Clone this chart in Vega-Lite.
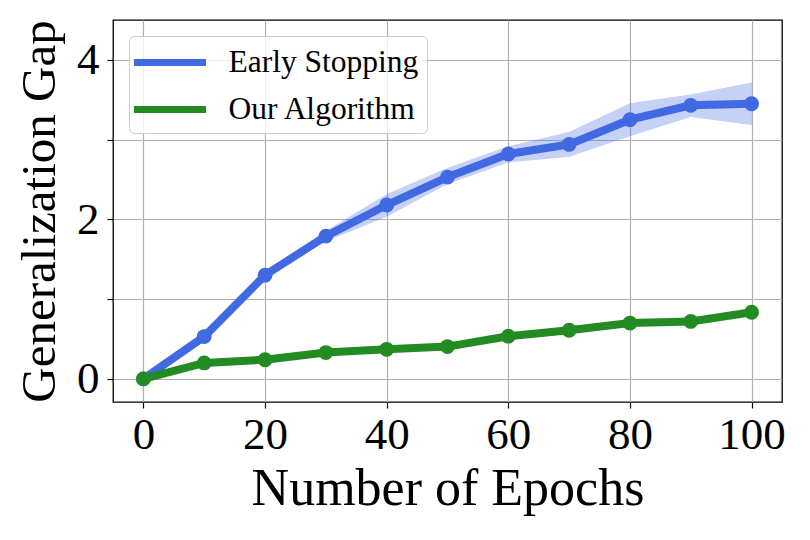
{
  "$schema": "https://vega.github.io/schema/vega-lite/v6.json",
  "width": 669,
  "height": 382,
  "autosize": "none",
  "padding": {"left": 113, "top": 20, "right": 28, "bottom": 138},
  "background": "white",
  "config": {
    "font": "Liberation Serif",
    "view": {"stroke": "black", "strokeWidth": 1.3},
    "axis": {
      "domain": false,
      "grid": true,
      "gridColor": "#b0b0b0",
      "gridWidth": 1.2,
      "tickColor": "black",
      "tickSize": 6,
      "tickWidth": 1.2,
      "labelFont": "Liberation Serif",
      "labelFontSize": 45,
      "labelColor": "black",
      "titleFont": "Liberation Serif",
      "titleFontSize": 50,
      "titleFontWeight": "normal",
      "titleColor": "black"
    }
  },
  "data": {
    "values": [
      {"epoch": 0, "method": "Early Stopping", "mean": 0.0, "lower": 0.0, "upper": 0.0},
      {"epoch": 10, "method": "Early Stopping", "mean": 0.53, "lower": 0.51, "upper": 0.55},
      {"epoch": 20, "method": "Early Stopping", "mean": 1.3, "lower": 1.27, "upper": 1.33},
      {"epoch": 30, "method": "Early Stopping", "mean": 1.79, "lower": 1.73, "upper": 1.85},
      {"epoch": 40, "method": "Early Stopping", "mean": 2.18, "lower": 2.04, "upper": 2.31},
      {"epoch": 50, "method": "Early Stopping", "mean": 2.53, "lower": 2.45, "upper": 2.64},
      {"epoch": 60, "method": "Early Stopping", "mean": 2.82, "lower": 2.72, "upper": 2.91},
      {"epoch": 70, "method": "Early Stopping", "mean": 2.94, "lower": 2.79, "upper": 3.09},
      {"epoch": 80, "method": "Early Stopping", "mean": 3.25, "lower": 3.05, "upper": 3.45},
      {"epoch": 90, "method": "Early Stopping", "mean": 3.43, "lower": 3.29, "upper": 3.56},
      {"epoch": 100, "method": "Early Stopping", "mean": 3.45, "lower": 3.19, "upper": 3.71},
      {"epoch": 0, "method": "Our Algorithm", "mean": 0.0, "lower": 0.0, "upper": 0.0},
      {"epoch": 10, "method": "Our Algorithm", "mean": 0.2, "lower": 0.19, "upper": 0.21},
      {"epoch": 20, "method": "Our Algorithm", "mean": 0.24, "lower": 0.23, "upper": 0.25},
      {"epoch": 30, "method": "Our Algorithm", "mean": 0.33, "lower": 0.32, "upper": 0.34},
      {"epoch": 40, "method": "Our Algorithm", "mean": 0.37, "lower": 0.36, "upper": 0.38},
      {"epoch": 50, "method": "Our Algorithm", "mean": 0.405, "lower": 0.395, "upper": 0.415},
      {"epoch": 60, "method": "Our Algorithm", "mean": 0.535, "lower": 0.52, "upper": 0.55},
      {"epoch": 70, "method": "Our Algorithm", "mean": 0.61, "lower": 0.6, "upper": 0.62},
      {"epoch": 80, "method": "Our Algorithm", "mean": 0.7, "lower": 0.69, "upper": 0.71},
      {"epoch": 90, "method": "Our Algorithm", "mean": 0.72, "lower": 0.7, "upper": 0.74},
      {"epoch": 100, "method": "Our Algorithm", "mean": 0.835, "lower": 0.82, "upper": 0.85}
    ]
  },
  "encoding": {
    "x": {
      "field": "epoch",
      "type": "quantitative",
      "scale": {"domain": [-5, 105], "nice": false, "zero": false},
      "axis": {"values": [0, 20, 40, 60, 80, 100], "title": "Number of Epochs", "titleFontSize": 52, "labelPadding": 4, "titlePadding": 6}
    }
  },
  "layer": [
    {
      "mark": {"type": "area", "opacity": 0.3, "strokeWidth": 1},
      "encoding": {
        "y": {
          "field": "lower",
          "type": "quantitative",
          "scale": {"domain": [-0.29, 4.5], "nice": false, "zero": false},
          "axis": {
            "values": [0, 1, 2, 3, 4],
            "format": "d",
            "labelExpr": "datum.value % 2 == 0 ? datum.label : ''",
            "title": "Generalization Gap",
            "titleFontSize": 49,
            "labelPadding": 8,
            "titlePadding": 12
          }
        },
        "y2": {"field": "upper"},
        "color": {
          "field": "method",
          "type": "nominal",
          "scale": {"domain": ["Early Stopping", "Our Algorithm"], "range": ["#4169e1", "#228b22"]},
          "legend": {
            "title": null,
            "orient": "none",
            "legendX": 16,
            "legendY": 16,
            "symbolType": "M-2.4,0H2.4",
            "symbolSize": 900,
            "symbolOffset": 14.5,
            "symbolStrokeWidth": 7,
            "symbolOpacity": 1,
            "labelFont": "Liberation Serif",
            "labelFontSize": 31.5,
            "labelColor": "black",
            "labelOffset": 40,
            "labelLimit": 400,
            "padding": 8,
            "rowPadding": 13,
            "fillColor": "rgba(255,255,255,0.8)",
            "strokeColor": "#cccccc",
            "cornerRadius": 5
          }
        },
        "stroke": {"field": "method", "type": "nominal", "scale": {"domain": ["Early Stopping", "Our Algorithm"], "range": ["#4169e1", "#228b22"]}, "legend": null}
      }
    },
    {
      "mark": {"type": "line", "strokeWidth": 8},
      "encoding": {
        "y": {"field": "mean", "type": "quantitative"},
        "color": {"field": "method", "type": "nominal"}
      }
    },
    {
      "mark": {"type": "point", "filled": true, "opacity": 1, "size": 220},
      "encoding": {
        "y": {"field": "mean", "type": "quantitative"},
        "color": {"field": "method", "type": "nominal"}
      }
    }
  ]
}
